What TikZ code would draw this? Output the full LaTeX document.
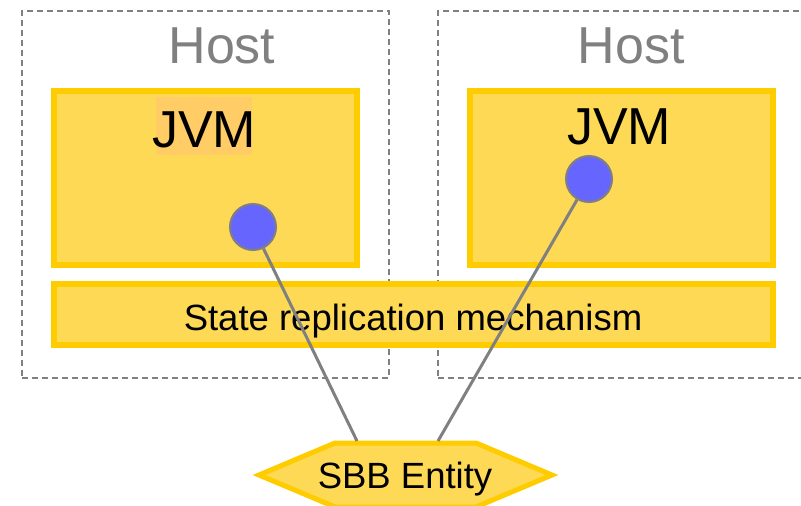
\documentclass[tikz,border=0pt]{standalone}
\usepackage{fontspec}
\setmainfont{Liberation Sans}
\definecolor{boxborder}{HTML}{FFCC00}
\definecolor{boxfill}{HTML}{FDD955}
\definecolor{hilite}{HTML}{FFCC66}
\definecolor{hostgray}{HTML}{808080}
\definecolor{ballfill}{HTML}{6666FF}
\tikzset{
  hostbox/.style={draw=hostgray, dash pattern=on 6pt off 4pt, line width=1.5pt, inner sep=0pt, outer sep=0pt, anchor=north west},
  ybox/.style={draw=boxborder, fill=boxfill, line width=6pt, inner sep=0pt, outer sep=0pt, anchor=north west},
  bigtxt/.style={font=\fontsize{52}{60}\selectfont, anchor=base, inner sep=0pt},
  midtxt/.style={font=\fontsize{36.5}{44}\selectfont, anchor=base, inner sep=0pt},
  ball/.style={circle, draw=hostgray, fill=ballfill, line width=2pt, minimum size=46pt, inner sep=0pt},
  link/.style={draw=hostgray, line width=3pt}
}
\begin{document}
\begin{tikzpicture}[x=1pt, y=-1pt]
\useasboundingbox (0,0) rectangle (801,506);
% hosts
\node[hostbox, minimum width=367pt, minimum height=367pt] (host1) at (22,11) {};
\node[hostbox, minimum width=367pt, minimum height=367pt] (host2) at (438,11) {};
\node[bigtxt, text=hostgray] (hostlbl1) at (222,63) {Host};
\node[bigtxt, text=hostgray] (hostlbl2) at (631,63) {Host};
% JVM boxes
\node[ybox, minimum width=303pt, minimum height=174pt] (jvm1) at (54,91) {};
\node[ybox, minimum width=303pt, minimum height=174pt] (jvm2) at (470,91) {};
\fill[hilite] (156,97) rectangle (252,155);
\node[bigtxt] (jvmlbl1) at (204,147) {JVM};
\node[bigtxt] (jvmlbl2) at (619,144) {JVM};
% state replication
\node[ybox, minimum width=719pt, minimum height=61pt] (state) at (54,284) {};
\node[midtxt] (statelbl) at (413,330) {State replication mechanism};
% SBB entity
\draw[draw=boxborder, fill=boxfill, line width=5pt, line join=miter]
  (259,475) -- (335,443) -- (476,443) -- (552,475) -- (476,507) -- (335,507) -- cycle;
\node[midtxt] (sbb) at (405,488) {SBB Entity};
\coordinate (sbbL) at (357,441);
\coordinate (sbbR) at (438,441);
% balls and links
\node[ball] (ball1) at (253,227) {};
\node[ball] (ball2) at (589,179) {};
\draw[link] (ball1) -- (sbbL);
\draw[link] (ball2) -- (sbbR);
\end{tikzpicture}
\end{document}
